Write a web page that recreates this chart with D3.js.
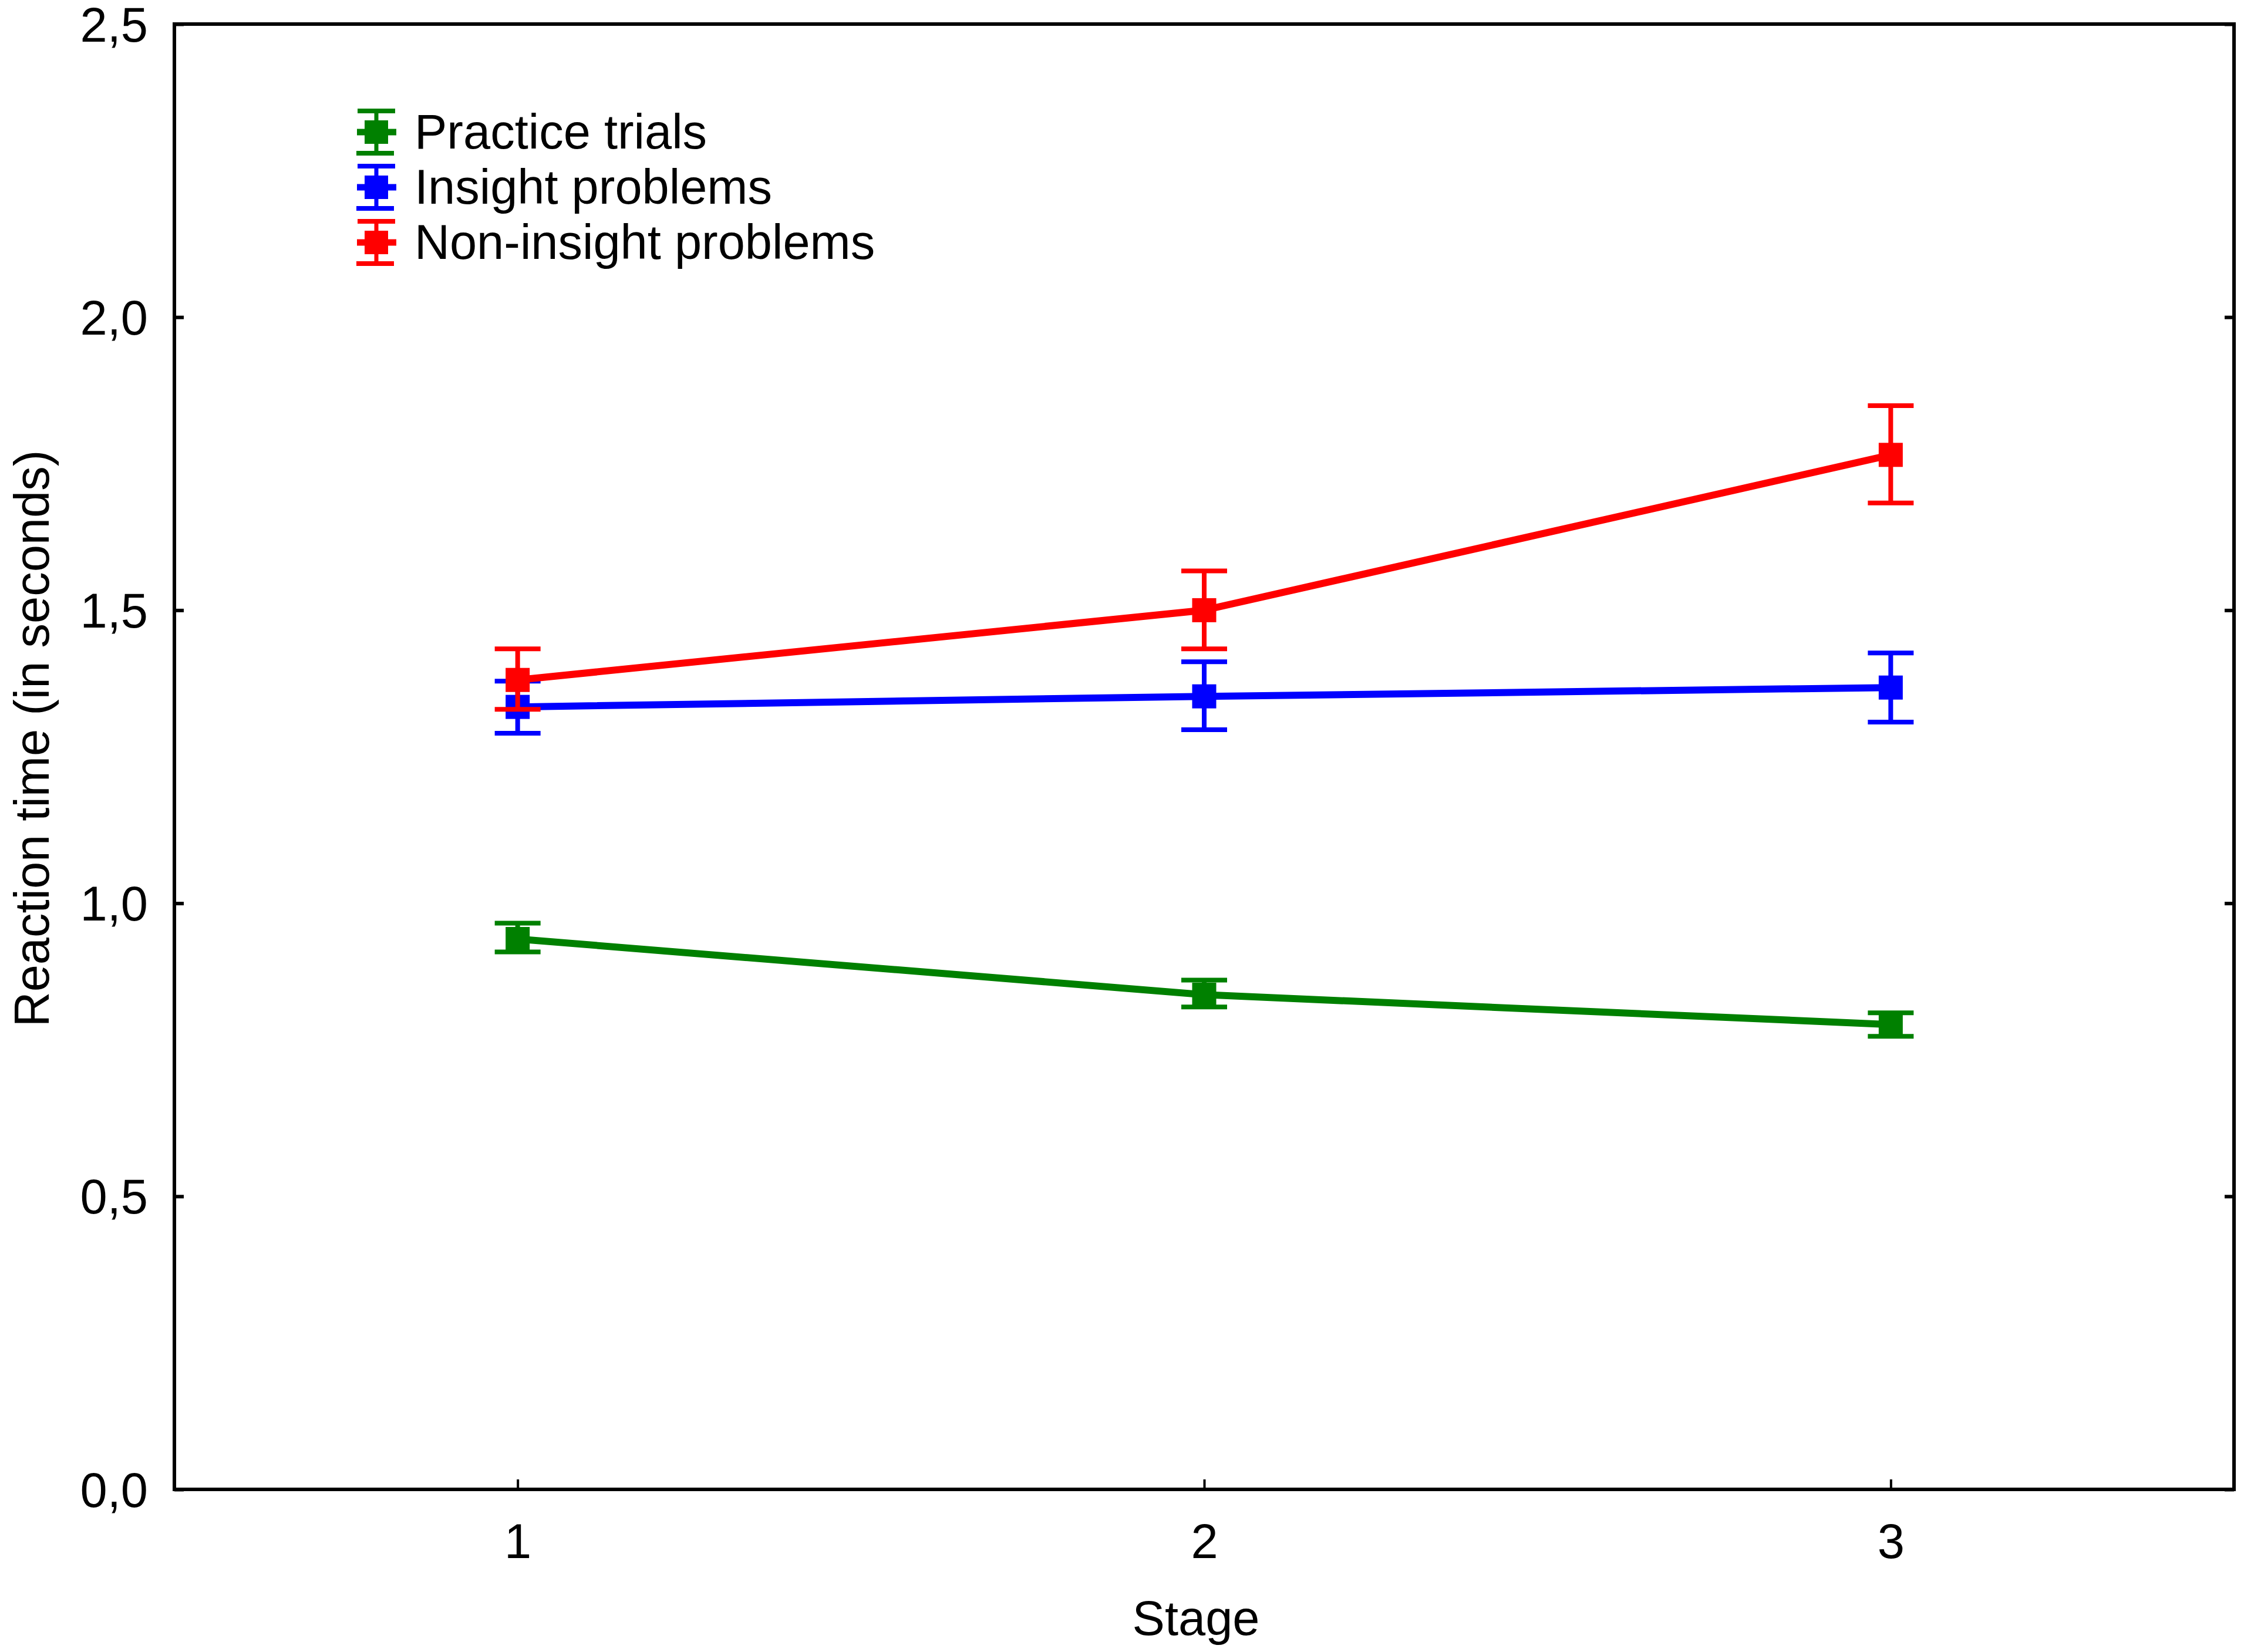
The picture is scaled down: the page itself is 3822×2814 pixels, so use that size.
<!DOCTYPE html>
<html>
<head>
<meta charset="utf-8">
<script src="https://cdn.jsdelivr.net/npm/d3@7"></script>
<style>
  body { margin: 0; background: #fff; }
  text { font-family: "Liberation Sans", Arial, sans-serif; }
</style>
</head>
<body>
<div class="chart"></div>
<script>
let W = 3822;
let H = 2814;

// data
const stages = [1, 2, 3];
const seriesNames = ["Practice trials", "Insight problems", "Non-insight problems"];
const seriesColors = ["#008000", "#0000ff", "#ff0000"];
const practiceMean = [0.939, 0.844, 0.793];
const practiceLow = [0.917, 0.823, 0.773];
const practiceHigh = [0.966, 0.869, 0.813];
const insightMean = [1.335, 1.353, 1.368];
const insightLow = [1.290, 1.296, 1.309];
const insightHigh = [1.379, 1.412, 1.427];
const nonInsightMean = [1.381, 1.500, 1.765];
const nonInsightLow = [1.331, 1.434, 1.683];
const nonInsightHigh = [1.434, 1.567, 1.849];
const yTicks = [0, 0.5, 1.0, 1.5, 2.0, 2.5];

const series = [
  {name: seriesNames[0], color: seriesColors[0], mean: practiceMean, lo: practiceLow, hi: practiceHigh},
  {name: seriesNames[1], color: seriesColors[1], mean: insightMean, lo: insightLow, hi: insightHigh},
  {name: seriesNames[2], color: seriesColors[2], mean: nonInsightMean, lo: nonInsightLow, hi: nonInsightHigh}
];

const m = {left: 297, right: 3822 - 3805, top: 41, bottom: 2814 - 2537};
const fs = '83px';

const x = d3.scaleLinear().domain([0.5, 3.5]).range([m.left, W - m.right]);
const y = d3.scaleLinear().domain([0, 2.5]).range([H - m.bottom, m.top]);

let svg = d3.select('.chart')
  .append('svg')
  .attr('width', W)
  .attr('height', H);

const fmt = function(d){ return d3.format(".1f")(d).replace('.', ','); };

// axes, ticks pointing inward
let yAxis = svg.append('g')
  .attr('transform', 'translate(' + m.left + ',0)')
  .call(d3.axisLeft(y).tickValues(yTicks).tickFormat(fmt).tickSizeInner(-16).tickSizeOuter(0).tickPadding(45));
yAxis.selectAll('text').attr('font-size', fs).attr('fill', '#000').attr('dy', '0.35em');
yAxis.selectAll('line').attr('stroke-width', 6);

let yAxisR = svg.append('g')
  .attr('transform', 'translate(' + (W - m.right) + ',0)')
  .call(d3.axisRight(y).tickValues(yTicks).tickFormat('').tickSizeInner(-16).tickSizeOuter(0));
yAxisR.selectAll('line').attr('stroke-width', 6);

let xAxis = svg.append('g')
  .attr('transform', 'translate(0,' + (H - m.bottom) + ')')
  .call(d3.axisBottom(x).tickValues(stages).tickFormat(d3.format('d')).tickSizeInner(-17).tickSizeOuter(0).tickPadding(58));
xAxis.selectAll('text').attr('font-size', fs).attr('fill', '#000');
xAxis.selectAll('line').attr('stroke-width', 4);
svg.selectAll('.domain').remove();

// frame
svg.append('rect')
  .attr('x', x(0.5)).attr('y', y(2.5))
  .attr('width', x(3.5) - x(0.5)).attr('height', y(0) - y(2.5))
  .attr('fill', 'none').attr('stroke', '#000').attr('stroke-width', 6);

// axis titles
svg.append('text')
  .text('Stage')
  .attr('x', 2037).attr('y', 2785)
  .attr('text-anchor', 'middle')
  .attr('font-size', fs);

svg.append('text')
  .text('Reaction time (in seconds)')
  .attr('transform', 'translate(83,1258) rotate(-90)')
  .attr('text-anchor', 'middle')
  .attr('font-size', fs);

const lineFun = d3.line()
  .x(function(d, i){ return x(stages[i]); })
  .y(function(d){ return y(d); });

const capW = 78;
const sq = 41;

series.forEach(function(s){
  let g = svg.append('g');
  g.append('path')
    .attr('d', lineFun(s.mean))
    .attr('stroke', s.color)
    .attr('stroke-width', 12)
    .attr('fill', 'none');
  stages.forEach(function(st, i){
    let cx = x(st);
    g.append('line')
      .attr('x1', cx).attr('x2', cx)
      .attr('y1', y(s.lo[i])).attr('y2', y(s.hi[i]))
      .attr('stroke', s.color).attr('stroke-width', 8);
    [s.lo[i], s.hi[i]].forEach(function(v){
      g.append('line')
        .attr('x1', cx - capW / 2).attr('x2', cx + capW / 2)
        .attr('y1', y(v)).attr('y2', y(v))
        .attr('stroke', s.color).attr('stroke-width', 8);
    });
    g.append('rect')
      .attr('x', cx - sq / 2).attr('y', y(s.mean[i]) - sq / 2)
      .attr('width', sq).attr('height', sq)
      .attr('fill', s.color);
  });
});

// legend
let legend = svg.selectAll('.leg')
  .data(series)
  .enter()
  .append('g')
  .attr('class', 'leg')
  .attr('transform', function(d, i){ return 'translate(641,' + (225 + i * 94) + ')'; });

legend.append('line')
  .attr('x1', 0).attr('x2', 0).attr('y1', -36).attr('y2', 36)
  .attr('stroke', function(d){ return d.color; }).attr('stroke-width', 7);
legend.append('line')
  .attr('x1', -32).attr('x2', 32).attr('y1', -36).attr('y2', -36)
  .attr('stroke', function(d){ return d.color; }).attr('stroke-width', 8);
legend.append('line')
  .attr('x1', -34).attr('x2', 30).attr('y1', 36).attr('y2', 36)
  .attr('stroke', function(d){ return d.color; }).attr('stroke-width', 8);
legend.append('line')
  .attr('x1', -33).attr('x2', 34).attr('y1', 0).attr('y2', 0)
  .attr('stroke', function(d){ return d.color; }).attr('stroke-width', 11);
legend.append('rect')
  .attr('x', -20).attr('y', -20).attr('width', 40).attr('height', 40)
  .attr('fill', function(d){ return d.color; });
legend.append('text')
  .text(function(d){ return d.name; })
  .attr('x', 65).attr('y', 28)
  .attr('font-size', fs);
</script>
</body>
</html>
